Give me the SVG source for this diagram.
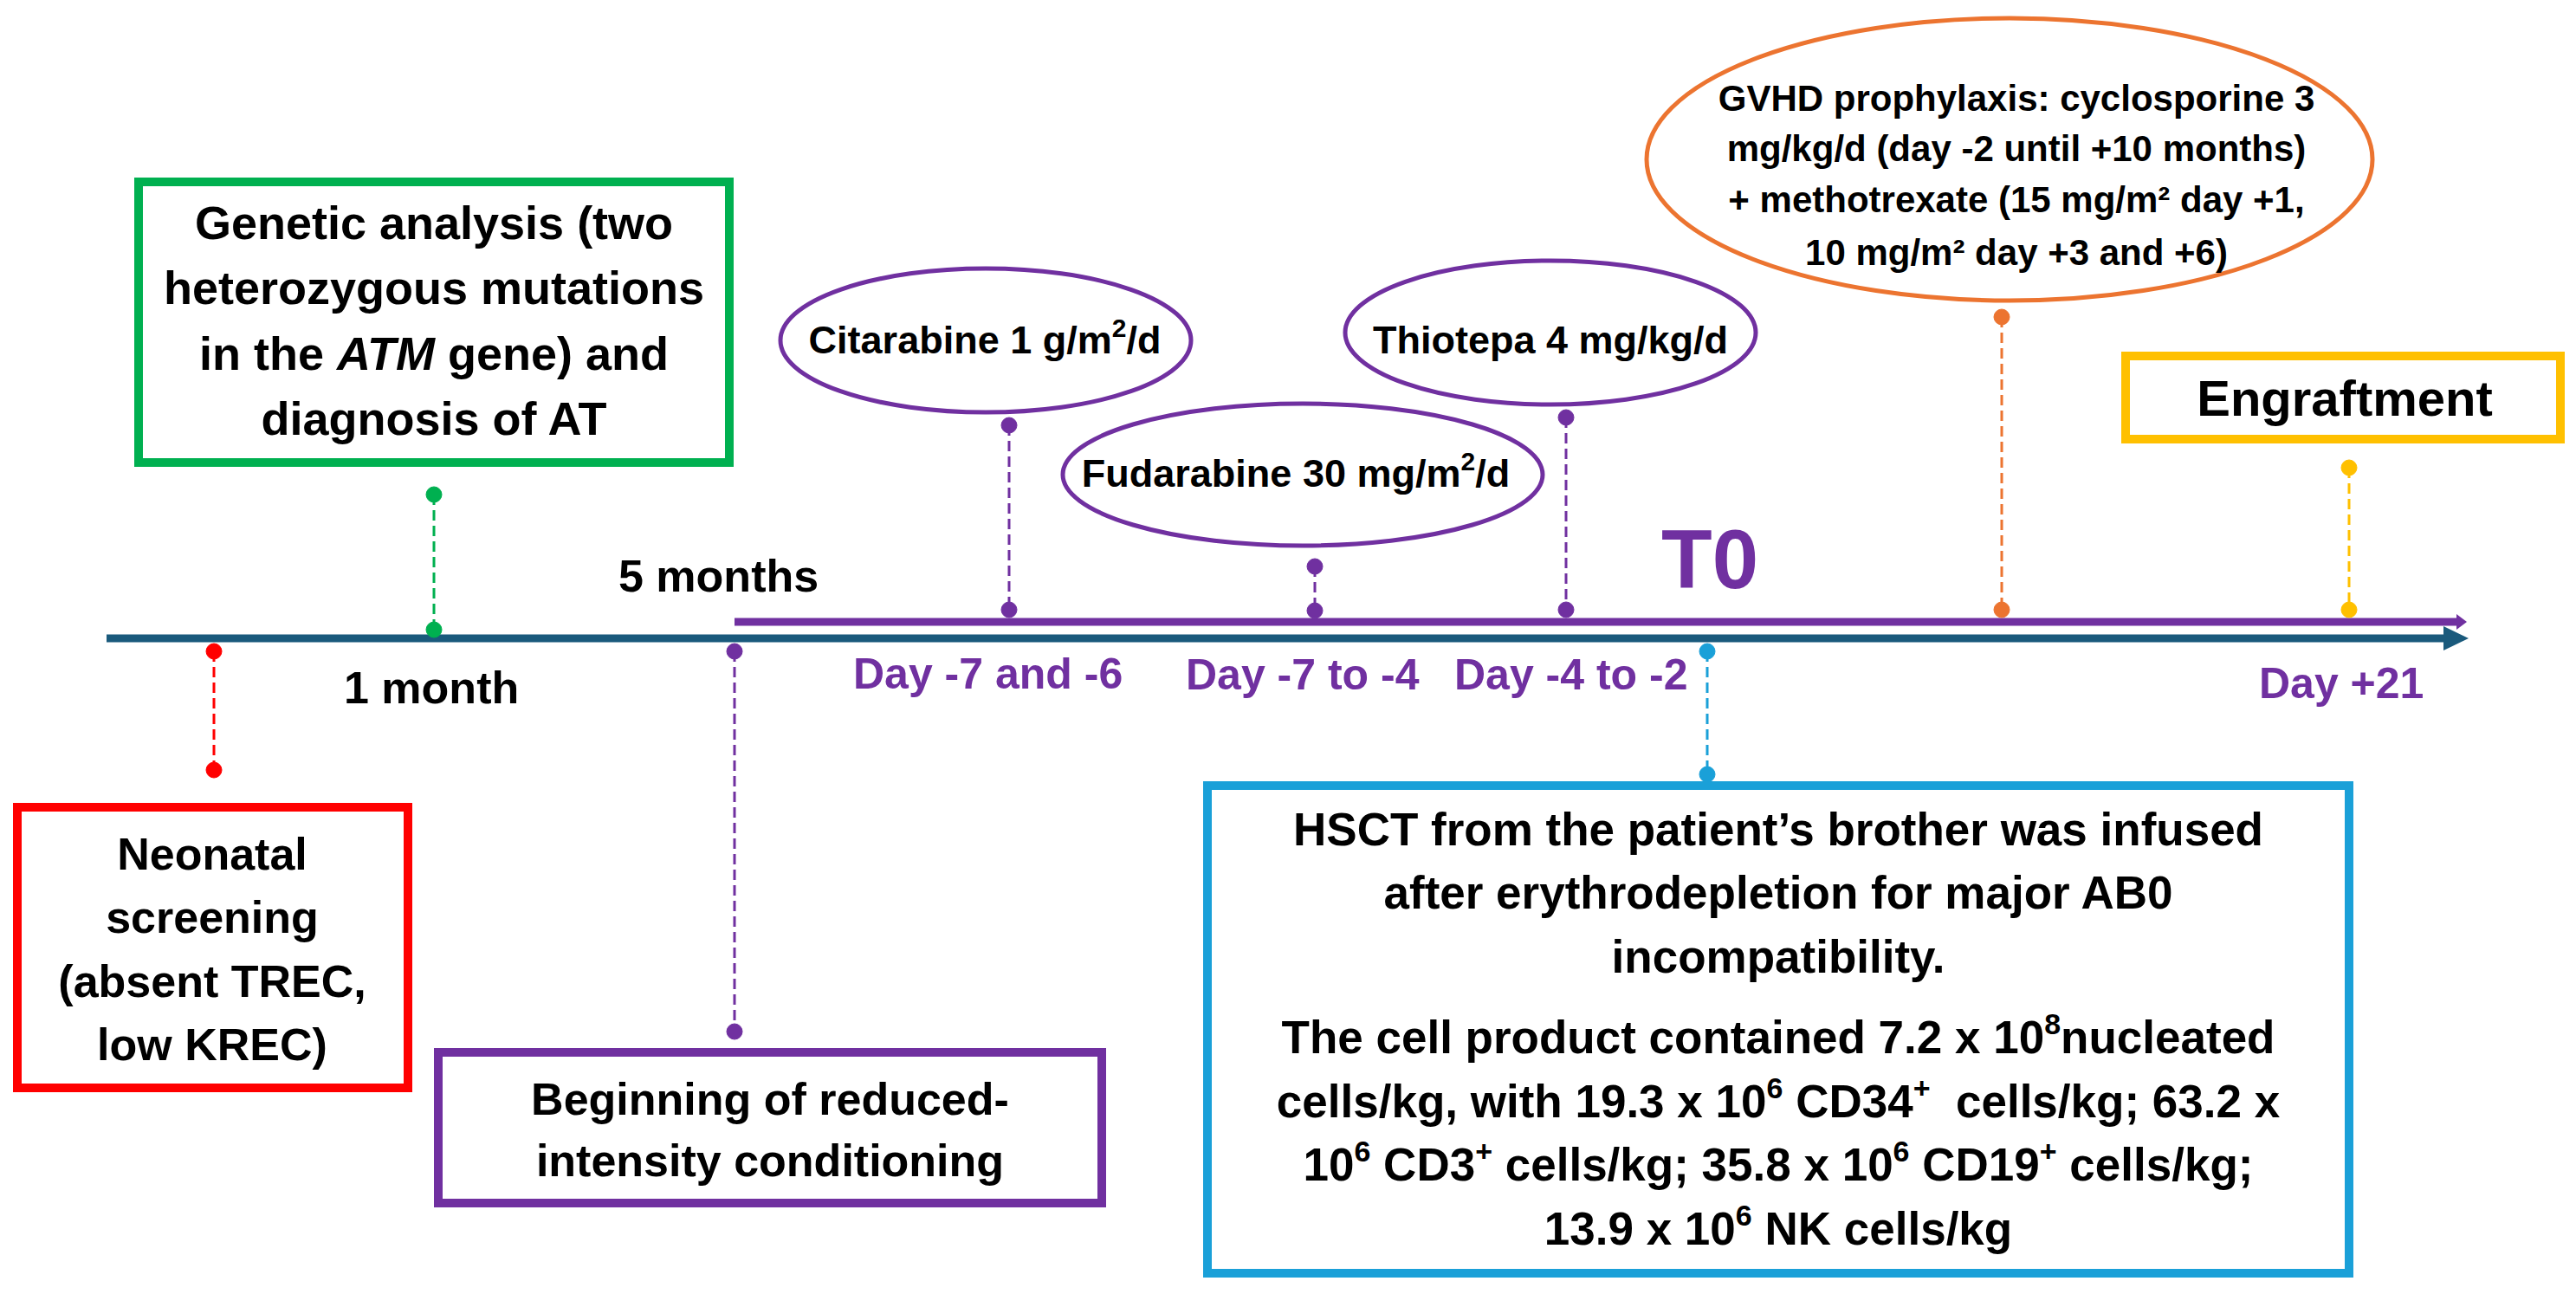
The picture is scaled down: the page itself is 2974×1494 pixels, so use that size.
<svg xmlns="http://www.w3.org/2000/svg" width="2974" height="1494" viewBox="0 0 2974 1494">
<style>
text { font-family: "Liberation Sans", Arial, sans-serif; font-weight: bold; fill: #000; }
.c { text-anchor: middle; }
.box { fill: #fff; stroke-width: 10; }
.ell { fill: #fff; stroke-width: 5; }
.dash { stroke-width: 3; stroke-dasharray: 12 6; fill: none; }
.pt { fill: #7030A0; }
</style>
<rect width="2974" height="1494" fill="#fff"/>

<g id="timeline">
  <line x1="123" y1="737" x2="2824" y2="737" stroke="#1A5A7C" stroke-width="9"/>
  <polygon points="2821,723 2850,737 2821,751" fill="#1A5A7C"/>
  <line x1="848" y1="718" x2="2840" y2="718" stroke="#7030A0" stroke-width="9"/>
  <polygon points="2836,709 2848,718 2836,727" fill="#7030A0"/>
</g>

<g id="connectors">
  <g stroke="#00B050" fill="#00B050"><line class="dash" x1="501" y1="571" x2="501" y2="727"/><circle cx="501" cy="571" r="9"/><circle cx="501" cy="727" r="9"/></g>
  <g stroke="#FF0000" fill="#FF0000"><line class="dash" x1="247" y1="752" x2="247" y2="889"/><circle cx="247" cy="752" r="9"/><circle cx="247" cy="889" r="9"/></g>
  <g stroke="#7030A0" fill="#7030A0"><line class="dash" x1="848" y1="752" x2="848" y2="1191"/><circle cx="848" cy="752" r="9"/><circle cx="848" cy="1191" r="9"/></g>
  <g stroke="#7030A0" fill="#7030A0"><line class="dash" x1="1165" y1="491" x2="1165" y2="704"/><circle cx="1165" cy="491" r="9"/><circle cx="1165" cy="704" r="9"/></g>
  <g stroke="#7030A0" fill="#7030A0"><line class="dash" x1="1518" y1="654" x2="1518" y2="705"/><circle cx="1518" cy="654" r="9"/><circle cx="1518" cy="705" r="9"/></g>
  <g stroke="#7030A0" fill="#7030A0"><line class="dash" x1="1808" y1="482" x2="1808" y2="704"/><circle cx="1808" cy="482" r="9"/><circle cx="1808" cy="704" r="9"/></g>
  <g stroke="#1AA0D8" fill="#1AA0D8"><line class="dash" x1="1971" y1="752" x2="1971" y2="894"/><circle cx="1971" cy="752" r="9"/><circle cx="1971" cy="894" r="9"/></g>
  <g stroke="#EC7430" fill="#EC7430"><line class="dash" x1="2311" y1="366" x2="2311" y2="704"/><circle cx="2311" cy="366" r="9"/><circle cx="2311" cy="704" r="9"/></g>
  <g stroke="#FFC000" fill="#FFC000"><line class="dash" x1="2712" y1="540" x2="2712" y2="704"/><circle cx="2712" cy="540" r="9"/><circle cx="2712" cy="704" r="9"/></g>
</g>

<g id="labels">
  <text x="714" y="683" font-size="52">5 months</text>
  <text x="397" y="812" font-size="52">1 month</text>
  <text class="pt" x="985" y="795" font-size="50">Day -7 and -6</text>
  <text class="pt" x="1369" y="796" font-size="50">Day -7 to -4</text>
  <text class="pt" x="1679" y="796" font-size="50">Day -4 to -2</text>
  <text class="pt" x="2608" y="806" font-size="50">Day +21</text>
  <text class="pt" x="1918" y="679" font-size="96">T0</text>
</g>

<g id="genetic">
  <rect class="box" x="160" y="210" width="682" height="324" stroke="#00B050"/>
  <text class="c" x="501" y="276" font-size="54">Genetic analysis (two</text>
  <text class="c" x="501" y="351" font-size="54">heterozygous mutations</text>
  <text class="c" x="501" y="427" font-size="54">in the <tspan font-style="italic">ATM</tspan> gene) and</text>
  <text class="c" x="501" y="502" font-size="54">diagnosis of AT</text>
</g>

<g id="neonatal">
  <rect class="box" x="20" y="932" width="451" height="324" stroke="#FF0000"/>
  <text class="c" x="245" y="1004" font-size="52">Neonatal</text>
  <text class="c" x="245" y="1077" font-size="52">screening</text>
  <text class="c" x="245" y="1151" font-size="52">(absent TREC,</text>
  <text class="c" x="245" y="1224" font-size="52">low KREC)</text>
</g>

<g id="conditioning">
  <rect class="box" x="506" y="1215" width="766" height="174" stroke="#7030A0" stroke-width="9"/>
  <text class="c" x="889" y="1287" font-size="52">Beginning of reduced-</text>
  <text class="c" x="889" y="1358" font-size="52">intensity conditioning</text>
</g>

<g id="citarabine">
  <ellipse class="ell" cx="1138" cy="393" rx="237" ry="83" stroke="#7030A0"/>
  <text class="c" x="1137" y="408" font-size="45">Citarabine 1 g/m<tspan font-size="30" dy="-19">2</tspan><tspan dy="19">/d</tspan></text>
</g>

<g id="fudarabine">
  <ellipse class="ell" cx="1504" cy="548" rx="277" ry="82" stroke="#7030A0"/>
  <text class="c" x="1496" y="562" font-size="45">Fudarabine 30 mg/m<tspan font-size="30" dy="-19">2</tspan><tspan dy="19">/d</tspan></text>
</g>

<g id="thiotepa">
  <ellipse class="ell" cx="1790" cy="384" rx="237" ry="83" stroke="#7030A0"/>
  <text class="c" x="1790" y="408" font-size="45">Thiotepa 4 mg/kg/d</text>
</g>

<g id="gvhd">
  <ellipse class="ell" cx="2320" cy="184" rx="419" ry="163" stroke="#EC7430"/>
  <text class="c" x="2328" y="128" font-size="42">GVHD prophylaxis: cyclosporine 3</text>
  <text class="c" x="2328" y="186" font-size="42">mg/kg/d (day -2 until +10 months)</text>
  <text class="c" x="2328" y="245" font-size="42">+ methotrexate (15 mg/m² day +1,</text>
  <text class="c" x="2328" y="306" font-size="42">10 mg/m² day +3 and +6)</text>
</g>

<g id="engraftment">
  <rect class="box" x="2454" y="411" width="502" height="96" stroke="#FFC000"/>
  <text class="c" x="2707" y="480" font-size="58">Engraftment</text>
</g>

<g id="hsct">
  <rect class="box" x="1394" y="907" width="1318" height="563" stroke="#1AA0D8"/>
  <text class="c" x="2053" y="976" font-size="53">HSCT from the patient’s brother was infused</text>
  <text class="c" x="2053" y="1049" font-size="53">after erythrodepletion for major AB0</text>
  <text class="c" x="2053" y="1123" font-size="53">incompatibility.</text>
  <text class="c" x="2053" y="1216" font-size="53">The cell product contained 7.2 x 10<tspan font-size="34" dy="-22">8</tspan><tspan dy="22">nucleated</tspan></text>
  <text class="c" x="2053" y="1290" font-size="53" xml:space="preserve">cells/kg, with 19.3 x 10<tspan font-size="34" dy="-22">6</tspan><tspan dy="22"> CD34</tspan><tspan font-size="34" dy="-22">+</tspan><tspan dy="22">  cells/kg; 63.2 x</tspan></text>
  <text class="c" x="2053" y="1363" font-size="53">10<tspan font-size="34" dy="-22">6</tspan><tspan dy="22"> CD3</tspan><tspan font-size="34" dy="-22">+</tspan><tspan dy="22"> cells/kg; 35.8 x 10</tspan><tspan font-size="34" dy="-22">6</tspan><tspan dy="22"> CD19</tspan><tspan font-size="34" dy="-22">+</tspan><tspan dy="22"> cells/kg;</tspan></text>
  <text class="c" x="2053" y="1437" font-size="53">13.9 x 10<tspan font-size="34" dy="-22">6</tspan><tspan dy="22"> NK cells/kg</tspan></text>
</g>
</svg>
